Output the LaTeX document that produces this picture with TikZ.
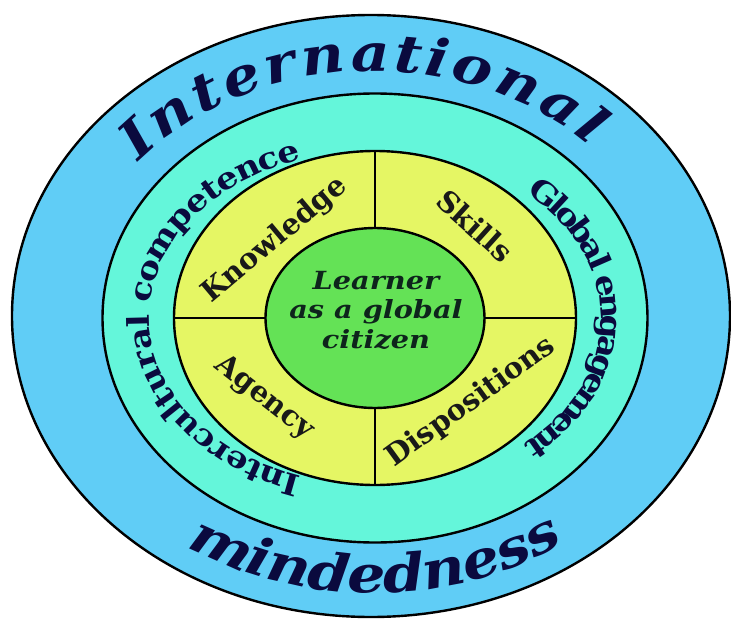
\documentclass[tikz,border=0pt]{standalone}
\usepackage{fontspec}
\setmainfont{DejaVu Serif}
\newfontfamily\wideserif[FakeStretch=1.15]{DejaVu Serif}
\usepackage{tikz}
\usetikzlibrary{shapes.geometric,decorations.text}
\definecolor{skyring}{RGB}{96,205,246}
\definecolor{aquaring}{RGB}{100,246,218}
\definecolor{limering}{RGB}{229,246,100}
\definecolor{greencore}{RGB}{100,226,86}
\definecolor{inkblue}{RGB}{10,10,62}
\definecolor{inkgreen}{RGB}{14,36,28}
\tikzset{
        ringnode/.style = {ellipse, draw=black, line width=2.4pt,
            inner sep=0pt, outer sep=0pt},
        ring_m/.style = {ringnode, fill=skyring,
            minimum width=718pt, minimum height=602pt},
        ring_c/.style = {ringnode, fill=aquaring,
            minimum width=545pt, minimum height=449pt},
        ring_q/.style = {ringnode, fill=limering,
            minimum width=402pt, minimum height=334pt},
        ring_g/.style = {ringnode, fill=greencore,
            minimum width=219pt, minimum height=180pt},
        divider/.style = {draw=black, line width=2.2pt},
        quad_l/.style = {inner sep=0pt, text=black!90,
            font=\fontsize{29}{30}\selectfont\bfseries},
        core_l/.style = {inner sep=0pt, align=center, text=inkgreen,
            font=\wideserif\fontsize{25}{29.5}\selectfont\bfseries\itshape},
        arc_big/.style = {decorate, decoration={text effects along path,
            text={#1}, text effects/.cd, text along path, fit text to path,
            characters={text=inkblue,
                font=\wideserif\fontsize{52}{52}\selectfont\bfseries\itshape}}},
        arc_small/.style = {decorate, decoration={text effects along path,
            text={#1}, text effects/.cd, text along path, fit text to path,
            characters={text=inkblue,
                font=\wideserif\fontsize{30}{30}\selectfont\bfseries}}}
    }

\begin{document}
\begin{tikzpicture}[x=1pt, y=1pt]
            \useasboundingbox[fill=white] (-375,-301) rectangle (356,318);
            % rings, outside in
            \node [ring_m] (mind) at (-4,2) {};
            \node [ring_c] (comp) at (0,0) {};
            \node [ring_q] (quad) at (0,0) {};
            \node [ring_g] (core) at (0,0) {};
            \draw [divider] (quad.north) -- (core.north);
            \draw [divider] (core.south) -- (quad.south);
            \draw [divider] (quad.west) -- (core.west);
            \draw [divider] (core.east) -- (quad.east);
            % centre and quadrants
            \node [core_l] (learner) at (1,8) {Learner\\as a global\\citizen};
            \node [quad_l, rotate=40] (know) at (-100,78) {Knowledge};
            \node [quad_l, rotate=-42] (skill) at (100,92) {Skills};
            \node [quad_l, rotate=-38] (agen) at (-111,-80) {Agency};
            \node [quad_l, rotate=36] (disp) at (96,-84) {Dispositions};
            % words along the rings
            \path [arc_big=International] (-2,1) ++(141:302 and 246)
                arc [start angle=141, end angle=44, x radius=302, y radius=246];
            \path [arc_big=mindedness] (-2,1) ++(236:333 and 276)
                arc [start angle=236, end angle=305, x radius=333, y radius=276];
            \path [arc_small=Intercultural competence] (0,0) ++(251:226 and 168)
                arc [start angle=251, end angle=109, x radius=226, y radius=168];
            \path [arc_small=Global engagement] (0,0) ++(48:226 and 168)
                arc [start angle=48, end angle=-49, x radius=226, y radius=168];
\end{tikzpicture}
\end{document}
